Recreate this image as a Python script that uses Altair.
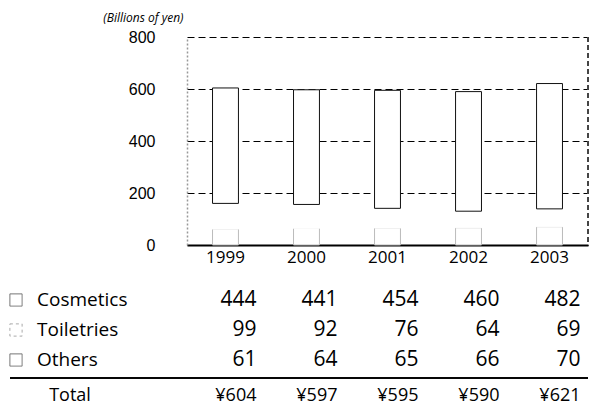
import altair as alt
import pandas as pd

# Sales by segment, billions of yen
years = ["1999", "2000", "2001", "2002", "2003"]
cosmetics = [444, 441, 454, 460, 482]
toiletries = [99, 92, 76, 64, 69]
others = [61, 64, 65, 66, 70]
totals = [604, 597, 595, 590, 621]
segments = ["Cosmetics", "Toiletries", "Others"]
y_ticks = [0, 200, 400, 600, 800]

# long table: drawn bottom-up (Others first, Cosmetics last so its outline stays on top)
rows = []
for seg, vals, rank in [("Others", others, 0), ("Toiletries", toiletries, 1), ("Cosmetics", cosmetics, 2)]:
    for yr, v in zip(years, vals):
        rows.append({"year": yr, "segment": seg, "value": v, "rank": rank})
df = pd.DataFrame(rows)
tot_df = pd.DataFrame({"year": years, "total": totals})
tot_df["label"] = ["¥" + str(t) for t in totals]
seg_df = pd.DataFrame({"segment": segments})

W, H = 401, 208
xscale = alt.Scale(domain=years, paddingInner=0.68, paddingOuter=0.315)
row_scale = alt.Scale(type="point", domain=segments, range=[263, 323], padding=0)
TABLE_FONT = "Open Sans"

x_axis = alt.Axis(labelAngle=0, ticks=False, domainColor="black", domainWidth=2.2,
                  labelFont=TABLE_FONT, labelFontSize=17, labelColor="black",
                  labelPadding=4, grid=False, title=None)
x_enc = alt.X("year:N", scale=xscale, axis=x_axis, title=None)

bars = alt.Chart(df).mark_bar(strokeWidth=1).encode(
    x=x_enc,
    y=alt.Y("value:Q", stack="zero", scale=alt.Scale(domain=[0, 800]),
            axis=alt.Axis(values=y_ticks, ticks=False, labelPadding=32,
                          labelFont="Liberation Sans", labelFontSize=16, labelColor="black",
                          domainColor="#999", domainDash=[2, 2], domainWidth=1.5,
                          grid=True, gridColor="black", gridDash=[7, 4], gridWidth=1.2,
                          title="(Billions of yen)", titleAngle=0, titleAlign="right",
                          titleBaseline="middle", titleX=-4, titleY=-20,
                          titleFont=TABLE_FONT, titleFontStyle="italic",
                          titleFontWeight="normal", titleFontSize=12, titleColor="black")),
    order=alt.Order("rank:Q"),
    fill=alt.value("white"),
    stroke=alt.Stroke("segment:N", scale=alt.Scale(domain=segments, range=["#111", "white", "#bbb"]),
                      legend=None),
)

right_border = alt.Chart(tot_df).mark_rule(color="#444", strokeDash=[5, 3], strokeWidth=1.2).encode(
    x=alt.value(W), y=alt.value(0), y2=alt.value(H)
)

values_text = alt.Chart(df).mark_text(align="right", dx=31, font=TABLE_FONT, fontSize=21,
                                      color="black").encode(
    x=x_enc,
    y=alt.Y("segment:N", scale=row_scale, axis=None),
    text="value:Q",
)

seg_labels = alt.Chart(seg_df).mark_text(align="left", font=TABLE_FONT, fontSize=19,
                                         color="black").encode(
    x=alt.value(-150),
    y=alt.Y("segment:N", scale=row_scale, axis=None),
    text="segment:N",
)

seg_boxes = alt.Chart(seg_df).mark_point(shape="square", filled=False, size=150, strokeWidth=1).encode(
    x=alt.value(-171),
    y=alt.Y("segment:N", scale=row_scale, axis=None),
    stroke=alt.Stroke("segment:N", scale=alt.Scale(domain=segments, range=["#333", "#888", "#333"]),
                      legend=None),
    strokeDash=alt.StrokeDash("segment:N", scale=alt.Scale(domain=segments,
                                                           range=[[1, 0], [3, 3], [1, 0]]),
                              legend=None),
)

sep_line = alt.Chart(tot_df).mark_rule(color="black", strokeWidth=1.2).encode(
    x=alt.value(-177), x2=alt.value(W), y=alt.value(341)
)

total_text = alt.Chart(tot_df).mark_text(align="right", dx=31, font=TABLE_FONT, fontSize=18,
                                         color="black").encode(
    x=x_enc,
    y=alt.value(359),
    text="label:N",
)

total_label = alt.Chart(tot_df.head(1)).mark_text(align="center", font=TABLE_FONT, fontSize=18,
                                                  color="black").encode(
    x=alt.value(-117), y=alt.value(359), text=alt.value("Total")
)

chart = alt.layer(
    bars, right_border, values_text, seg_labels, seg_boxes, sep_line, total_text, total_label
).resolve_scale(
    y="independent", stroke="independent", strokeDash="independent"
).properties(
    width=W, height=H,
    autosize=alt.AutoSizeParams(type="none"),
    padding={"left": 187, "top": 37, "right": 1, "bottom": 162},
    background="white",
).configure_view(stroke=None)

chart.save("out.html", embed_options={"renderer": "svg", "actions": False})
